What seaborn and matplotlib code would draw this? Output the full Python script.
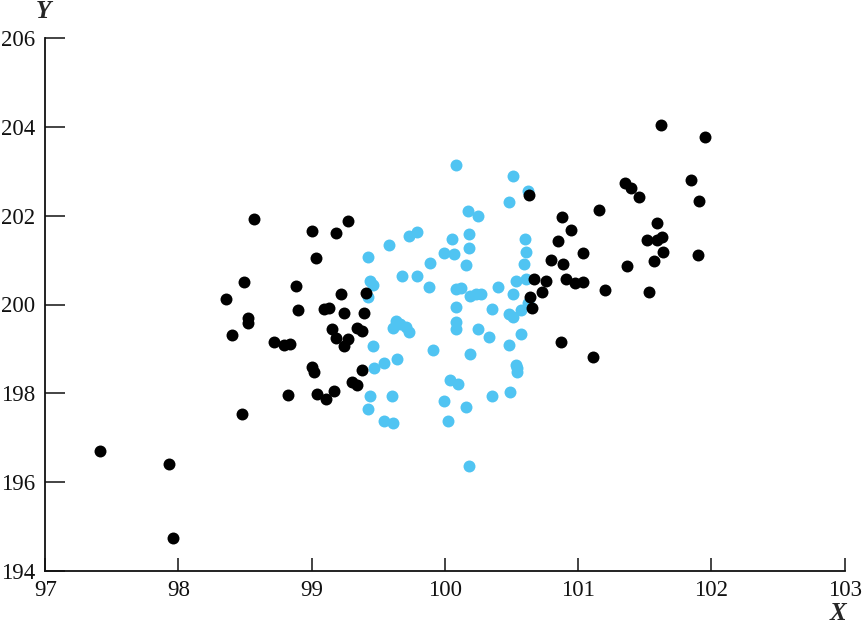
import matplotlib
matplotlib.use("Agg")
import matplotlib.pyplot as plt
import seaborn as sns
import pandas as pd

# ---- data ----
black_x = [97.41, 97.93, 97.96, 98.36, 98.40, 98.49, 98.52, 98.52, 98.48, 98.57,
           98.72, 98.79, 98.84, 98.82, 98.88, 98.90, 99.00, 99.03, 99.00, 99.02,
           99.04, 99.09, 99.13, 99.11, 99.17, 99.15, 99.18, 99.18, 99.22, 99.24,
           99.24, 99.27, 99.27, 99.30, 99.34, 99.34, 99.38, 99.39, 99.38, 99.41,
           100.63, 100.64, 100.65, 100.67, 100.73, 100.76, 100.80, 100.85, 100.88, 100.89,
           100.91, 100.95, 100.98, 101.04, 101.04, 100.87, 101.11, 101.16, 101.20, 101.35,
           101.40, 101.46, 101.37, 101.52, 101.53, 101.59, 101.57, 101.59, 101.62, 101.63,
           101.64, 101.85, 101.90, 101.91, 101.95]
black_y = [196.70, 196.40, 194.74, 200.12, 199.32, 200.51, 199.69, 199.59, 197.54, 201.93,
           199.16, 199.08, 199.11, 197.96, 200.42, 199.87, 201.66, 201.05, 198.60, 198.47,
           197.98, 199.90, 199.93, 197.87, 198.04, 199.45, 199.25, 201.61, 200.24, 199.80,
           199.06, 199.22, 201.88, 198.26, 198.19, 199.48, 199.41, 199.81, 198.52, 200.25,
           202.47, 200.17, 199.91, 200.57, 200.29, 200.52, 201.01, 201.44, 201.98, 200.92,
           200.58, 201.67, 200.49, 201.17, 200.51, 199.15, 198.82, 202.13, 200.32, 202.74,
           202.62, 202.43, 200.87, 201.45, 200.29, 201.83, 200.99, 201.45, 204.05, 201.53,
           201.18, 202.80, 201.12, 202.34, 203.78]

blue_x = [100.08, 100.51, 100.62, 100.48, 100.17, 100.25, 99.73, 99.79, 100.05, 100.18,
          99.58, 100.60, 99.99, 100.07, 100.18, 99.42, 100.61, 99.89, 100.16, 100.59,
          99.68, 99.79, 99.44, 99.46, 99.88, 100.08, 100.12, 100.19, 100.23, 100.27,
          100.40, 100.51, 100.53, 100.61, 100.62, 99.42, 100.08, 100.35, 100.48, 100.51,
          100.57, 100.08, 100.08, 99.63, 99.66, 99.71, 99.73, 99.61, 100.25, 100.33,
          100.57, 100.48, 99.46, 99.91, 100.19, 99.64, 99.54, 99.47, 100.04, 100.10,
          100.53, 100.54, 100.54, 99.44, 99.60, 99.99, 100.35, 100.49, 100.16, 99.42,
          99.54, 99.61, 100.02, 100.18]
blue_y = [203.14, 202.90, 202.56, 202.30, 202.11, 201.99, 201.54, 201.63, 201.48, 201.60,
          201.34, 201.48, 201.16, 201.13, 201.27, 201.06, 201.18, 200.93, 200.89, 200.91,
          200.64, 200.64, 200.53, 200.44, 200.39, 200.34, 200.37, 200.20, 200.23, 200.23,
          200.40, 200.23, 200.54, 200.57, 200.04, 200.17, 199.95, 199.90, 199.79, 199.72,
          199.88, 199.60, 199.44, 199.63, 199.56, 199.50, 199.39, 199.48, 199.44, 199.27,
          199.33, 199.09, 199.07, 198.98, 198.88, 198.77, 198.69, 198.56, 198.29, 198.20,
          198.64, 198.56, 198.47, 197.94, 197.94, 197.83, 197.94, 198.03, 197.68, 197.65,
          197.38, 197.34, 197.38, 196.35]

x_ticks = [97, 98, 99, 100, 101, 102, 103]
y_ticks = [194, 196, 198, 200, 202, 204, 206]

# ---- style ----
sns.set_style("ticks")
plt.rcParams['font.family'] = ['Liberation Serif', 'DejaVu Serif']

fig = plt.figure(figsize=(8.64, 6.27), dpi=100)
ax = fig.add_axes([45.2 / 864, 56.3 / 627, 799.4 / 864, 532.4 / 627])

blue_df = pd.DataFrame({"x": blue_x, "y": blue_y})
black_df = pd.DataFrame({"x": black_x, "y": black_y})

sns.scatterplot(data=blue_df, x="x", y="y", color="#50C4F2", s=74,
                linewidth=0, ax=ax, zorder=2, clip_on=False)
sns.scatterplot(data=black_df, x="x", y="y", color="#000000", s=74,
                linewidth=0, ax=ax, zorder=3, clip_on=False)

ax.set_xlim(97, 103)
ax.set_ylim(194, 206)
ax.set_xticks(x_ticks)
ax.set_yticks(y_ticks)
ax.set_xticklabels([str(t) for t in x_ticks])
ax.set_yticklabels([str(t) for t in y_ticks])
ax.set_xlabel("")
ax.set_ylabel("")

for side in ("top", "right"):
    ax.spines[side].set_visible(False)
for side in ("left", "bottom"):
    ax.spines[side].set_linewidth(1.3)
    ax.spines[side].set_color("#111111")

ax.tick_params(axis="x", direction="in", length=9.6, width=1.1, pad=7,
               labelsize=16.5, colors="#111111")
ax.tick_params(axis="y", direction="in", length=14.4, width=1.1, pad=7,
               labelsize=16.5, colors="#111111")

fig.text(43 / 864, 1 - 11 / 627, "Y", fontsize=18, fontweight="bold",
         fontstyle="italic", ha="center", va="center")
fig.text(838 / 864, 1 - 613 / 627, "X", fontsize=18, fontweight="bold",
         fontstyle="italic", ha="center", va="center")

fig.savefig("out.png", dpi=100)
